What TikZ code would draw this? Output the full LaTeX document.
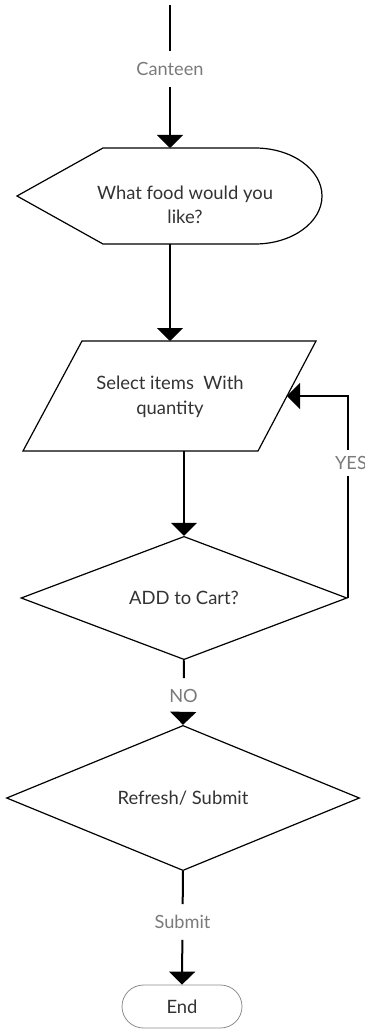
\documentclass[tikz,border=0pt]{standalone}
\usepackage{fontspec}
\setmainfont{Lato}
\usetikzlibrary{arrows.meta,shapes.geometric,shapes.misc}
\definecolor{textdark}{HTML}{333333}
\definecolor{labelgray}{HTML}{7A7A7A}
\definecolor{endgray}{HTML}{8C8C8C}
\begin{document}
\begin{tikzpicture}[x=1pt,y=-1pt,
  conn/.style={draw=black,line width=2pt},
  arr/.style={conn,-{Triangle[width=26pt,length=13pt]}},
  shapeline/.style={draw=black,line width=1.2pt,fill=white},
  body/.style={text=textdark,font=\fontsize{18.4}{24.5}\selectfont,align=center},
  lbl/.style={text=labelgray,font=\fontsize{18.2}{24}\selectfont,inner xsep=2pt,inner ysep=11pt},
  decision/.style={diamond,shapeline,body,inner sep=0pt}
]
\useasboundingbox (0,0) rectangle (364,1030);
% display shape
\draw[shapeline] (17,196) -- (103,148) -- (255,148)
  arc[start angle=-90,end angle=90,x radius=67,y radius=48]
  -- (103,244) -- cycle;
\node[body] (food) at (185,205) {What food would you\\like?};
% parallelogram
\draw[shapeline] (82,341) -- (316,341) -- (258,451) -- (23,451) -- cycle;
\node[body] (sel) at (170,397) {Select items\ \ With\\quantity};
% decisions
\node[decision,minimum width=326pt,minimum height=110pt] (cart) at (184,598) {ADD to Cart?};
\node[decision,minimum width=353pt,minimum height=122pt] (refresh) at (183,798) {Refresh/ Submit};
% terminator
\node[rounded rectangle,draw=endgray,line width=0.8pt,body,minimum width=120pt,minimum height=43pt,inner sep=0pt] (end) at (182,1006.5) {End};
% anchor coordinates
\coordinate (start) at (170,5);
\coordinate (foodT) at (170,148);
\coordinate (foodB) at (170,244);
\coordinate (selT) at (170,341);
\coordinate (selB) at (184,451);
\coordinate (selR) at (287,396);
% labels
\node[lbl] (canteen) at (170,69) {Canteen};
\node[lbl] (no) at (183.5,696) {NO};
\node[lbl] (submit) at (182.5,922) {Submit};
\node[lbl,inner ysep=6pt,inner xsep=0pt] (yes) at (351,463) {YES};
% connectors
\draw[arr] (start) -- (canteen) -- (foodT);
\draw[arr] (foodB) -- (selT);
\draw[arr] (selB) -- (cart.north);
\draw[conn] (cart.east) -- (cart.east |- yes.south);
\draw[arr] (cart.east |- yes.north) |- (selR);
\draw[arr] (cart.south) -- (no) -- (refresh.north);
\draw[arr] (refresh.south) -- (submit) -- (end.north);
\end{tikzpicture}
\end{document}
